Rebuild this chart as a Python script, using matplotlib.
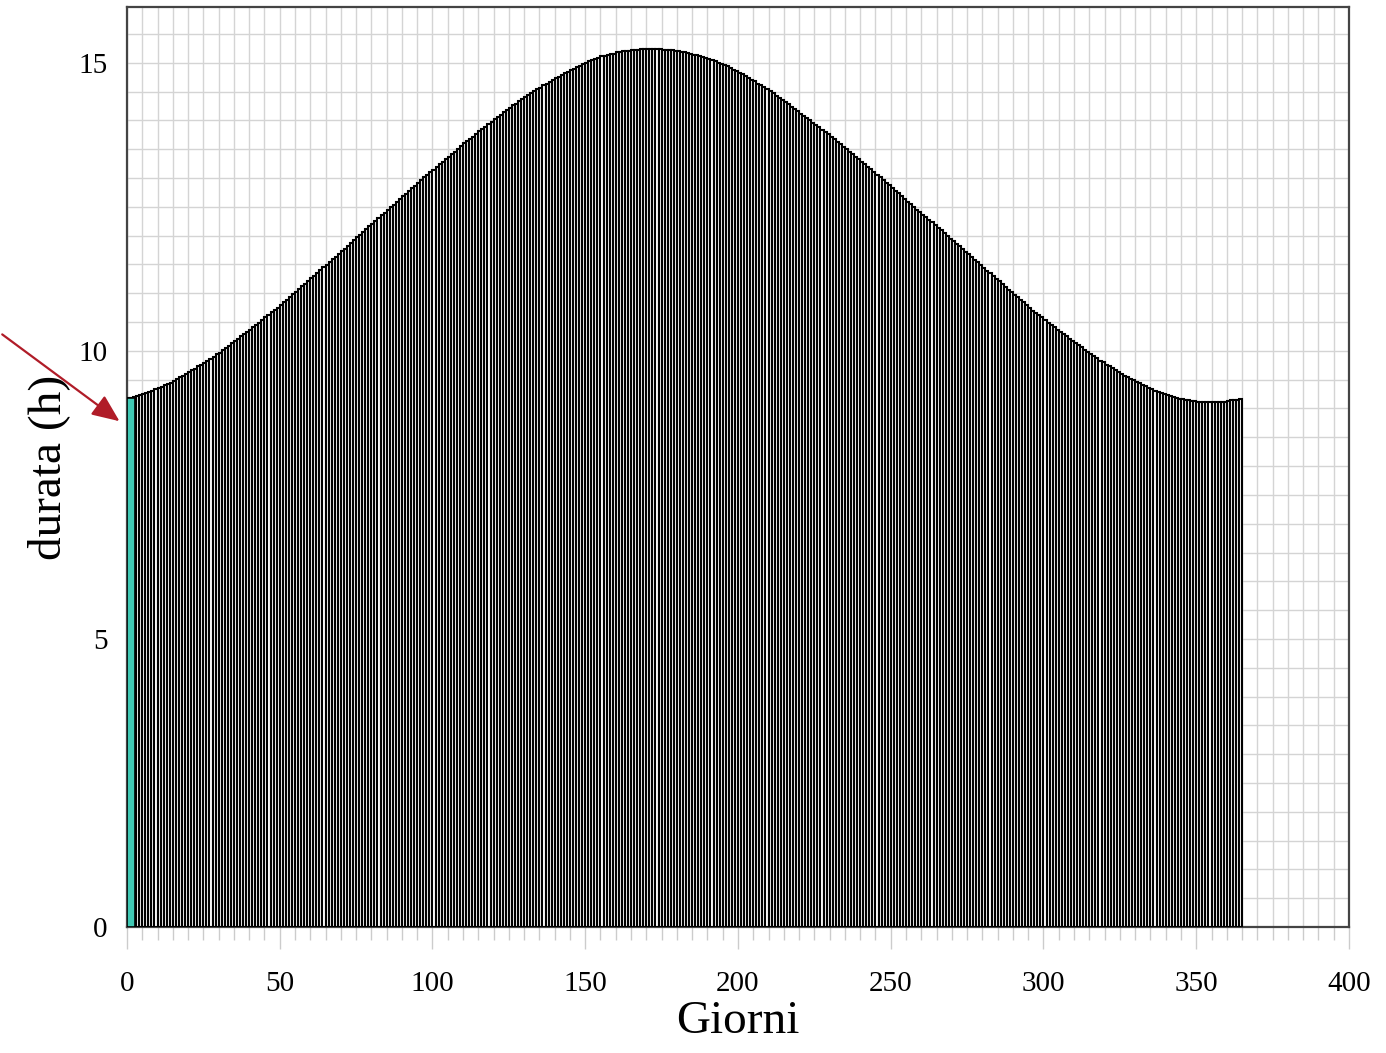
import numpy as np
import matplotlib
matplotlib.use("Agg")
import matplotlib.pyplot as plt
from matplotlib.ticker import MultipleLocator

# durata del giorno (ore), un valore per giorno
gen = [9.18, 9.19, 9.20, 9.22, 9.23, 9.25, 9.27, 9.29, 9.31, 9.33, 9.35, 9.37, 9.40, 9.42, 9.45,
       9.48, 9.51, 9.54, 9.57, 9.60, 9.63, 9.66, 9.69, 9.73, 9.76, 9.79, 9.83, 9.86, 9.90, 9.94, 9.97]
feb = [10.01, 10.05, 10.09, 10.13, 10.17, 10.21, 10.25, 10.29, 10.33, 10.37, 10.41, 10.45, 10.49, 10.54,
       10.58, 10.62, 10.67, 10.71, 10.75, 10.80, 10.84, 10.89, 10.93, 10.98, 11.02, 11.07, 11.12, 11.16]
mar = [11.21, 11.26, 11.30, 11.35, 11.40, 11.45, 11.49, 11.54, 11.59, 11.63, 11.68, 11.73, 11.77, 11.82,
       11.87, 11.92, 11.97, 12.01, 12.06, 12.11, 12.16, 12.20, 12.25, 12.30, 12.35, 12.39, 12.44, 12.49,
       12.54, 12.58, 12.63]
apr = [12.68, 12.73, 12.77, 12.82, 12.87, 12.91, 12.96, 13.01, 13.05, 13.10, 13.14, 13.19, 13.24, 13.28,
       13.33, 13.37, 13.42, 13.46, 13.51, 13.55, 13.60, 13.64, 13.68, 13.72, 13.77, 13.81, 13.85, 13.89,
       13.94, 13.98]
mag = [14.02, 14.06, 14.10, 14.14, 14.18, 14.22, 14.26, 14.29, 14.33, 14.37, 14.40, 14.44, 14.47, 14.51,
       14.54, 14.57, 14.61, 14.64, 14.67, 14.70, 14.73, 14.76, 14.79, 14.82, 14.84, 14.87, 14.90, 14.92,
       14.95, 14.98, 15.00]
giu = [15.03, 15.05, 15.07, 15.09, 15.11, 15.12, 15.14, 15.15, 15.16, 15.18, 15.19, 15.20, 15.21, 15.21,
       15.22, 15.23, 15.23, 15.24, 15.24, 15.24, 15.24, 15.24, 15.24, 15.24, 15.23, 15.23, 15.22, 15.22,
       15.21, 15.20]
lug = [15.19, 15.18, 15.17, 15.16, 15.14, 15.13, 15.12, 15.10, 15.08, 15.06, 15.05, 15.03, 15.00, 14.98,
       14.96, 14.94, 14.91, 14.88, 14.86, 14.83, 14.80, 14.77, 14.74, 14.71, 14.68, 14.64, 14.61, 14.58,
       14.54, 14.51, 14.47]
ago = [14.43, 14.39, 14.35, 14.32, 14.28, 14.24, 14.20, 14.16, 14.12, 14.08, 14.04, 14.00, 13.96, 13.92,
       13.88, 13.84, 13.80, 13.76, 13.71, 13.67, 13.63, 13.59, 13.54, 13.50, 13.46, 13.41, 13.37, 13.33,
       13.28, 13.24, 13.19]
set_ = [13.15, 13.10, 13.06, 13.01, 12.97, 12.92, 12.88, 12.83, 12.78, 12.74, 12.69, 12.64, 12.59, 12.55,
        12.50, 12.45, 12.41, 12.36, 12.32, 12.27, 12.23, 12.18, 12.14, 12.09, 12.04, 12.00, 11.95, 11.91,
        11.86, 11.82]
ott = [11.77, 11.72, 11.68, 11.63, 11.58, 11.54, 11.49, 11.44, 11.39, 11.35, 11.30, 11.25, 11.21, 11.16,
       11.11, 11.06, 11.02, 10.97, 10.93, 10.88, 10.84, 10.79, 10.75, 10.70, 10.66, 10.62, 10.58, 10.53,
       10.49, 10.45, 10.41]
nov = [10.37, 10.33, 10.29, 10.25, 10.21, 10.17, 10.14, 10.10, 10.06, 10.02, 9.98, 9.94, 9.91, 9.87,
       9.83, 9.80, 9.76, 9.73, 9.70, 9.66, 9.63, 9.60, 9.57, 9.54, 9.52, 9.49, 9.46, 9.44, 9.41, 9.39]
dic = [9.36, 9.34, 9.31, 9.29, 9.27, 9.25, 9.23, 9.22, 9.20, 9.19, 9.17, 9.16, 9.15, 9.14, 9.13, 9.13,
       9.12, 9.12, 9.11, 9.11, 9.11, 9.11, 9.11, 9.12, 9.12, 9.12, 9.13, 9.14, 9.14, 9.15, 9.16]

durata = np.array(gen + feb + mar + apr + mag + giu + lug + ago + set_ + ott + nov + dic)
giorni = np.arange(1, len(durata) + 1)

plt.rcParams['font.family'] = ['Liberation Serif', 'DejaVu Serif']

fig = plt.figure(figsize=(13.86, 10.53), dpi=100)
ax = fig.add_axes([0.0916, 0.1197, 0.8817, 0.8737])

ax.bar(giorni - 1, durata, width=1.0, align='edge', color='white',
       edgecolor='black', linewidth=1.5, zorder=3)
# primo giorno evidenziato
ax.bar(giorni[0] - 1, durata[0], width=2.6, align='edge', color='#40c8b4',
       edgecolor='black', linewidth=1.2, zorder=4)

ax.set_xlim(0, 400)
ax.set_ylim(0, 15.97)
ax.xaxis.set_major_locator(MultipleLocator(50))
ax.xaxis.set_minor_locator(MultipleLocator(5))
ax.yaxis.set_major_locator(MultipleLocator(5))
ax.yaxis.set_minor_locator(MultipleLocator(0.5))
ax.grid(True, which='both', color='#d4d4d4', linewidth=1.0, zorder=0)
ax.set_axisbelow(True)

ax.tick_params(axis='x', which='major', length=16, width=1, color='#cccccc',
               labelsize=21, pad=16)
ax.tick_params(axis='x', which='minor', length=9, width=1, color='#cccccc')
ax.tick_params(axis='y', which='both', length=0, labelsize=21, pad=14)

for s in ax.spines.values():
    s.set_color('#444444')
    s.set_linewidth(1.6)

ax.set_xlabel('Giorni', fontsize=34, labelpad=2)
ax.set_ylabel('durata (h)', fontsize=34, labelpad=6)

ax.annotate('', xy=(-1.7, 8.75), xytext=(0.0, 0.684), textcoords='figure fraction',
            arrowprops=dict(arrowstyle='-|>,head_length=0.7,head_width=0.3', color='#b01c28',
                            lw=1.6, mutation_scale=24),
            annotation_clip=False)

fig.savefig('out.png', dpi=100)
